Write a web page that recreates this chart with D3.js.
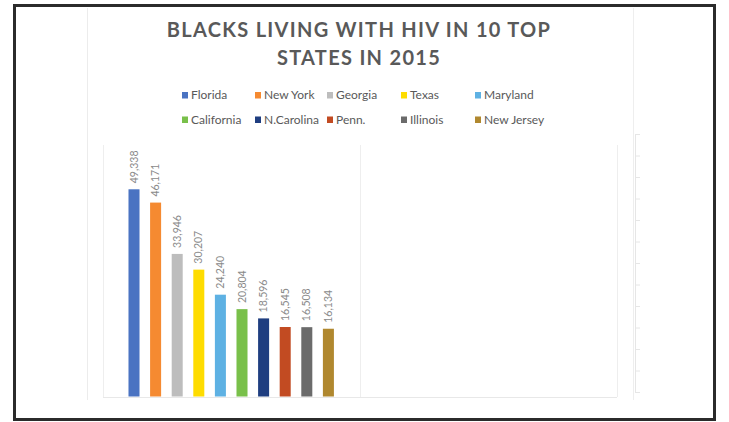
<!DOCTYPE html>
<html>
<head>
<meta charset="utf-8">
<script src="https://cdn.jsdelivr.net/npm/d3@7"></script>
<style>
html,body{margin:0;padding:0;background:#fff;}
svg{display:block;}
</style>
</head>
<body>
<svg id="chart" width="729" height="422"></svg>
<script>
const titleLines = ["BLACKS LIVING WITH HIV IN 10 TOP", "STATES IN 2015"];
const states = ["Florida","New York","Georgia","Texas","Maryland","California","N.Carolina","Penn.","Illinois","New Jersey"];
const values = [49338,46171,33946,30207,24240,20804,18596,16545,16508,16134];
const colors = ["#4a73c2","#f58a31","#bdbdbd","#fedc00","#5eb1e3","#79c04a","#1f3e80","#c24b22","#6b6b6b","#b0882f"];
const sideTicks = [0,1,2,3,4,5,6,7,8,9,10,11,12];

const svg = d3.select("#chart");
const font = "Lato, 'Open Sans', sans-serif";

// outer frame
svg.append("rect").attr("x",14.5).attr("y",5.5).attr("width",700).attr("height",414)
  .attr("fill","#fff").attr("stroke","#2b2b2b").attr("stroke-width",3);

// faint background guide lines
svg.append("line").attr("x1",87.5).attr("x2",87.5).attr("y1",8).attr("y2",400)
  .attr("stroke","#ececec").attr("stroke-width",1);

const sideScale = d3.scaleLinear().domain([0,12]).range([392,134]);
const sideAxis = svg.append("g").attr("transform","translate(635,0)")
  .call(d3.axisRight(sideScale).tickValues(sideTicks).tickSize(5).tickFormat(""));
sideAxis.select(".domain").attr("stroke","#e6e6e6");
sideAxis.selectAll(".tick line").attr("stroke","#e6e6e6");
svg.append("line").attr("x1",633.5).attr("x2",633.5).attr("y1",8).attr("y2",400)
  .attr("stroke","#eeeeee");

// plot area
const plot = {left:103, right:617, top:145, bottom:397};
const y = d3.scaleLinear().domain([0,60000]).range([396.5,144.5]);
const x = d3.scaleBand().domain(states).range([123.2,339.2]).paddingInner(0.49).paddingOuter(0.245);
const cat = d3.scaleBand().domain(["2015",""]).range([plot.left, plot.right]);

svg.append("g").selectAll("line").data(cat.domain().concat(["end"])).join("line")
  .attr("x1",(d,i)=>plot.left + i*cat.step()+0.5).attr("x2",(d,i)=>plot.left + i*cat.step()+0.5)
  .attr("y1",plot.top).attr("y2",plot.bottom)
  .attr("stroke","#eeeeee");
svg.append("line").attr("x1",plot.left).attr("x2",plot.right).attr("y1",plot.bottom+0.5).attr("y2",plot.bottom+0.5)
  .attr("stroke","#e8e8e8");

// title
svg.append("text").attr("x",359).attr("y",0).attr("text-anchor","middle")
  .attr("font-family",font).attr("font-weight","bold").attr("font-size",20)
  .attr("letter-spacing",1.3).attr("fill","#595959")
  .selectAll("tspan").data(titleLines).join("tspan")
  .attr("x",359).attr("y",(d,i)=>37+i*28).text(d=>d);

// legend
const legCols = [182,255,327,401,475];
const legRows = [95,119.5];
const leg = svg.append("g").selectAll("g").data(states).join("g")
  .attr("transform",(d,i)=>`translate(${legCols[i%5]},${legRows[Math.floor(i/5)]})`);
leg.append("rect").attr("x",0).attr("y",-3).attr("width",6).attr("height",6.5)
  .attr("fill",(d,i)=>colors[i]);
leg.append("text").attr("x",(d,i)=>[9,9,9,9,9][i%5]).attr("y",4)
  .attr("font-family",font).attr("font-size",12).attr("fill","#595959").text(d=>d);

// bars
svg.append("g").selectAll("rect").data(values).join("rect")
  .attr("x",(d,i)=>x(states[i])).attr("width",x.bandwidth())
  .attr("y",d=>y(d)).attr("height",d=>y(0)-y(d))
  .attr("fill",(d,i)=>colors[i]);

// data labels
const fmt = d3.format(",");
svg.append("g").selectAll("text").data(values).join("text")
  .attr("transform",(d,i)=>`translate(${x(states[i])+x.bandwidth()/2+3.5},${y(d)-6}) rotate(-90)`)
  .attr("font-family",font).attr("font-size",10.5).attr("fill","#8a8a8a")
  .text(d=>fmt(d));
</script>
</body>
</html>
